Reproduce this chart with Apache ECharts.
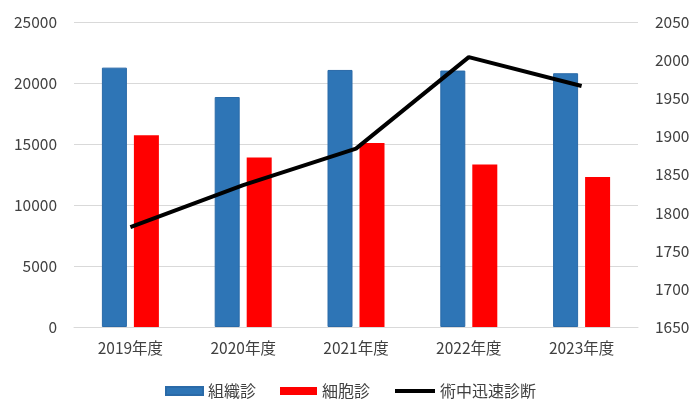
<!DOCTYPE html>
<html><head><meta charset="utf-8">
<script src="https://cdn.jsdelivr.net/npm/echarts@6/dist/echarts.min.js"></script>
<style>html,body{margin:0;padding:0;background:#fff}#c{width:700px;height:418px}</style>
</head><body><div id="c"></div>
<script>
const categories = ['2019年度','2020年度','2021年度','2022年度','2023年度'];
const tissue = [21260, 18850, 21070, 21020, 20800];
const cytology = [15710, 13890, 15080, 13310, 12300];
const frozen = [1781, 1836, 1884, 2004, 1966];
const leftTicks = [0, 25000, 5000];
const rightTicks = [1650, 2050, 50];

const font = '"Noto Sans CJK JP", "Noto Sans", sans-serif';
const chart = echarts.init(document.getElementById('c'));
const legendText = {fontSize: 16, color: '#404040', fontFamily: font};
chart.setOption({
  animation: false,
  textStyle: {fontFamily: font},
  grid: {left: 74, right: 62, top: 22, bottom: 91},
  legend: [{
    top: 378, left: 160, itemWidth: 37, itemHeight: 8, itemGap: 24,
    textStyle: legendText,
    data: [{name: '組織診', icon: 'rect'}, {name: '細胞診', icon: 'rect'}]
  }, {
    top: 378, left: 390, itemWidth: 40, itemHeight: 4, itemGap: 24,
    textStyle: legendText,
    data: [{name: '術中迅速診断', icon: 'rect'}]
  }],
  xAxis: {
    type: 'category', data: categories,
    axisLine: {lineStyle: {color: '#d9d9d9'}},
    axisTick: {show: false},
    axisLabel: {fontSize: 15.5, color: '#404040', margin: 13, fontFamily: font}
  },
  yAxis: [{
    type: 'value', min: leftTicks[0], max: leftTicks[1], interval: leftTicks[2],
    axisLine: {show: false}, axisTick: {show: false},
    splitLine: {lineStyle: {color: '#d9d9d9'}},
    axisLabel: {fontSize: 15.5, color: '#404040', margin: 17, fontFamily: font, formatter: v => String(v)}
  }, {
    type: 'value', min: rightTicks[0], max: rightTicks[1], interval: rightTicks[2],
    axisLine: {show: false}, axisTick: {show: false}, splitLine: {show: false},
    axisLabel: {fontSize: 15.5, color: '#404040', margin: 17, fontFamily: font, formatter: v => String(v)}
  }],
  series: [{
    name: '組織診', type: 'bar', data: tissue, barWidth: 25, barGap: '28%',
    itemStyle: {color: '#2e75b6', borderColor: '#2a6aa8', borderWidth: 1}
  }, {
    name: '細胞診', type: 'bar', data: cytology, barWidth: 25,
    itemStyle: {color: '#ff0000'}
  }, {
    name: '術中迅速診断', type: 'line', yAxisIndex: 1, data: frozen,
    symbol: 'none', lineStyle: {color: '#000', width: 4}, itemStyle: {color: '#000'}
  }]
});
</script></body></html>
